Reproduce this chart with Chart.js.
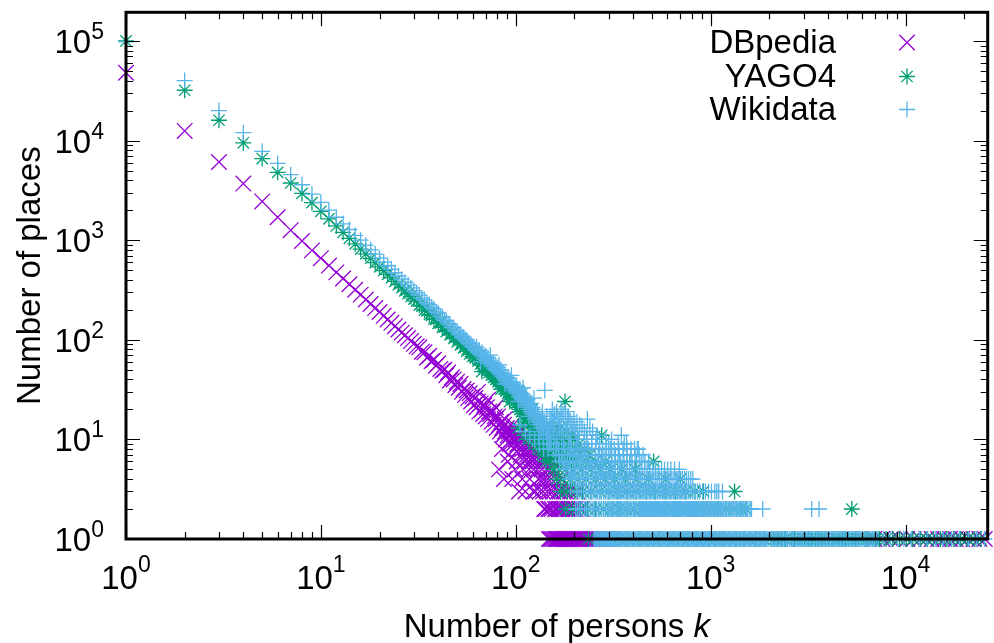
<!DOCTYPE html>
<html>
<head>
<meta charset="utf-8">
<script src="https://cdn.jsdelivr.net/npm/chart.js@4.4.1/dist/chart.umd.min.js"></script>
<style>
  html, body { margin: 0; padding: 0; background: #fff; overflow: hidden; }
  canvas { display: block; }
</style>
</head>
<body>
<canvas id="chart" width="1000" height="643"></canvas>
<script>
// Number of places having exactly k persons, for k = 1..60
const dbpediaHead = [48000,12500,6100,3700,2450,1700,1260,980,790,660,
  556,475,412,361,318,284,254,229,208,190,
  174,160,148,137,127,118,111,104,97,91,
  86,84,76,75,66,69,61,63,55,58,
  51,49,50,44,47,39,42,40,35,38,
  33,36,30,32,28,31,26,29,24,27];
const yagoHead = [100000,32000,16000,9500,6600,4800,3750,2950,2380,1950,
  1640,1390,1200,1045,920,815,730,655,595,540,
  494,454,418,386,358,333,310,290,272,256,
  244,223,218,199,195,179,176,161,160,146,
  147,133,135,121,124,112,115,103,106,95,
  99,89,92,83,86,77,81,72,76,68];
const wikidataHead = [98000,40000,20000,12000,7800,5900,4550,3600,2900,2400,
  2000,1700,1460,1280,1120,1000,890,800,725,660,
  603,554,510,471,437,406,378,354,332,312,
  296,281,262,252,234,226,211,204,190,186,
  172,170,157,155,145,143,133,132,123,122,
  115,113,107,106,100,99,93,92,87,86];

// [k, places] pairs beyond k = 60
const dbpediaMid = [[61,22],[62,26],[63,21],[64,24],[65,19],[66,23],[67,20],[68,18],[69,22],[70,17],
  [71,21],[72,16],[73,19],[74,18],[75,15],[76,19],[77,14],[78,17],[79,16],[80,13],
  [81,17],[82,14],[83,12],[84,15],[85,13],[86,11],[87,14],[88,12],[89,10],[90,13],
  [91,11],[92,12],[93,9],[94,11],[95,10],[96,12],[97,9],[98,8],[99,11],[100,10],
  [102,9],[103,11],[104,8],[106,7],[107,10],[108,8],[110,9],[111,6],[113,8],[114,7],
  [116,9],[117,6],[119,7],[120,8],[122,6],[124,5],[125,7],[127,6],[129,5],[130,7],
  [132,4],[134,6],[136,5],[137,4],[139,6],[141,4],[143,5],[145,3],[146,4],[148,5],
  [150,3],[152,4],[155,3],[157,5],[159,2],[161,4],[164,3],[166,2],[168,3],[171,4],
  [173,2],[176,3],[178,2],[181,3],[184,2],[187,2],[190,3],[194,2],[198,2],[203,2],
  [207,3],[212,2],[218,2],
  [85,8],[92,7],[101,6],[109,5],[118,4],[126,3],[133,3],[140,2],[147,2],[153,2],
  [162,2],[170,2],[88,16],[97,14],[105,12],[115,11],[128,9],[135,8],[144,7],[156,6],
  [64,30],[72,25],[79,21],[82,5],[87,4],[91,6],[96,4],[99,5],[104,3],[108,4],
  [112,3],[117,5],[123,3],[131,4],[138,3],[142,2],[149,2]];
const yagoMid = [[61,72],[62,66],[63,69],[64,61],[65,64],[66,57],[67,60],[68,55],[69,52],[70,56],
  [71,49],[72,52],[73,47],[74,50],[75,44],[76,47],[77,42],[78,45],[79,40],[80,43],
  [81,38],[82,41],[83,36],[84,39],[85,34],[86,37],[87,32],[88,35],[89,31],[90,34],
  [91,29],[92,32],[93,28],[94,30],[95,26],[96,29],[97,25],[98,28],[99,24],[100,27],
  [101,23],[102,26],[103,21],[104,24],[105,20],[106,23],[107,19],[108,22],[109,18],[110,21],
  [111,17],[112,20],[113,16],[114,19],[115,15],[116,18],[117,14],[118,17],[119,15],[120,13],
  [121,16],[122,12],[123,15],[124,13],[125,11],[126,14],[127,12],[128,10],[129,13],[130,11],
  [132,12],[133,9],[135,11],[136,10],[138,8],[139,12],[141,9],[142,10],[144,8],[145,11],
  [147,7],[148,9],[150,10],
  [67,48],[75,52],[84,32],[93,24],[104,30],[112,15],[121,20],[131,15],[140,13],[146,12],
  [103,13],[110,11],[116,10],[123,9],[130,8],[137,7],[143,6],[149,6],
  [179,24],[276,11],[510,6]];
const wikidataMid = [[61,84],[62,80],[63,84],[64,77],[65,79],[66,71],[67,75],[68,68],[69,64],[70,69],
  [71,62],[72,66],[73,58],[74,61],[75,57],[76,54],[77,58],[78,51],[79,55],[80,49],
  [81,53],[82,47],[83,45],[84,50],[85,43],[86,46],[87,41],[88,44],[89,39],[90,42],
  [91,37],[92,41],[93,35],[94,38],[95,36],[96,33],[97,37],[98,31],[99,34],[100,30],
  [101,35],[102,29],[103,31],[104,27],[105,32],[106,26],[107,29],[108,25],[109,28],[110,24],
  [111,27],[112,22],[113,26],[114,21],[115,25],[116,20],[117,23],[118,22],[119,19],[120,23],
  [121,18],[122,21],[123,17],[124,20],[125,16],[126,19],[127,17],[128,15],[129,18],[130,14],
  [131,17],[132,15],[133,13],[134,16],[135,12],[136,15],[137,14],[138,11],[139,13],[140,15],
  [141,31],[142,12],[143,14],[144,10],[145,13],[146,11],[147,12],[148,9],[149,13],[150,10],
  [66,60],[74,70],[82,56],[88,36],[95,44],[103,24],[109,33],[117,17],[124,26],[131,11],
  [137,19],[144,17],[105,14],[112,12],[118,11],[125,10],[132,9],[139,8],[146,8],
  [233,16],[348,11],[360,9],[420,8]];

// Sparse tail: [places, [k values having that many places]]
const dbpediaRows = [
  [1, [148,151,154,158,160,163,165,167,169,172,175,177,180,183,185,189,192,196,200,205,
       209,214,219,225,231,238,244,251,259,268,280,293,310,
       6900,7600,8400,9300,10200,11000,11900,12800,13600,14700,15800,16900,18100,19500,
       20800,22300,23900,25500]]
];
const yagoRows = [
  [13, [155,168]],
  [12, [152,163,182]],
  [11, [158,171,195]],
  [10, [154,166,178,200]],
  [9, [151,160,174,188,211]],
  [8, [157,169,183,203,226]],
  [7, [153,164,177,193,214,240]],
  [6, [160,172,186,204,228,255,290]],
  [5, [156,167,181,197,218,243,272,305,350,410]],
  [4, [162,175,190,208,230,256,287,322,365,418,480,588,700]],
  [3, [170,184,201,220,243,270,300,335,372,415,465,520,585,660,745,830,918,1327]],
  [2, [180,196,214,234,257,282,309,338,370,405,444,486,532,582,637,697,762,834,912,1000,
       1095,1200,1310,1430,1520,5300]],
  [1, [236,261,283,312,336,372,401,433,470,512,547,602,648,715,768,842,905,982,1063,1150,
       1248,1352,1470,1590,1720,1880,2040,2120,2210,2310,2400,2600,2700,2810,2950,3050,3180,
       3300,3440,3580,3720,3880,4040,4200,4380,4550,4740,4930,5130,5340,5560,5780,6020,6260,
       6510,6780,7060,7340,7950,8610,9330,10100,10900,11900,12800,13900,15100,16300,17700,
       19200,20800,22500,24400]]
];
const wikidataRows = [
  [20, [154,171]],
  [19, [162,180]],
  [18, [158,175]],
  [17, [150,164,186]],
  [16, [153,168,185,199]],
  [15, [156,171,190,206]],
  [14, [160,176,194,213]],
  [13, [151,166,181,199,219,240]],
  [12, [155,168,183,202,225,248]],
  [11, [158,172,188,207,231,262]],
  [10, [150,162,176,192,210,232,258,290,310]],
  [9, [152,163,176,190,206,224,245,270,300,335,370]],
  [8, [156,166,178,193,209,226,246,268,292,320,355,390,425,161,172,186,201,217,236,257,280,306,337,372,407]],
  [7, [160,172,184,197,212,228,245,265,287,311,340,372,410,450,166,178,190,204,220,236,255,276,299,325,356,390,430]],
  [6, [168,178,190,203,216,231,246,262,280,300,322,346,372,395,440,480,
       173,184,196,209,223,238,254,271,290,311,334,359,384,417,460]],
  [5, [176,186,196,207,218,229,242,255,268,283,299,315,333,352,372,394,418,444,472,505,
       540,580,625,653,690,181,191,201,212,223,235,248,261,275,291,307,324,342,362,383,
       406,431,458,488,522,560,602]],
  [4, [188,198,208,219,230,243,255,266,279,291,304,318,333,347,363,380,398,416,436,456,
       478,500,524,548,575,604,633,664,670,697,735,770,810,
       193,203,213,224,236,249,260,272,285,297,311,325,340,355,371,389,407,426,446,467,
       489,512,536,561,589,618,648,680,716,752,790]],
  [3, [211,223,236,246,258,269,282,294,305,318,328,339,350,363,376,389,402,417,432,445,
       461,476,492,509,524,544,565,582,603,621,644,665,688,707,733,755,790,830,880,940,
       1010,1050,1075,1100,1150,
       205,217,229,241,252,263,275,288,299,311,323,333,344,356,369,382,395,409,424,438,
       453,468,484,500,516,534,554,573,592,612,632,654,676,697,720,744,772,810,855,910,975]],
  [2, [203,213,226,237,249,259,270,283,295,304,313,323,333,344,355,363,375,388,403,411,
       427,436,445,454,463,472,481,491,501,511,522,533,545,556,568,580,593,605,618,632,
       646,661,676,692,707,722,738,755,771,789,806,825,845,864,884,905,927,949,971,995,
       1018,1042,1063,1088,1115,1140,1170,1210,1250,1290,1335,1380,1425,1475,1525,1550,
       1590,1620,1850,3300,3600,
       208,219,231,243,254,265,276,289,300,309,318,328,338,349,359,369,381,395,407,419,
       431,440,449,458,467,476,486,496,506,516,527,539,550,562,574,586,599,611,625,639,
       653,668,684,699,714,730,746,763,780,797,815,835,854,874,894,916,938,960,983,1006,
       1030,1052,1075,1101,1127,1155,1190,1230,1270,1312,1357,1402,1450,1500]],
  [1, [252,258,263,270,276,281,289,296,302,309,317,324,331,340,347,355,364,372,381,390,
       399,409,418,428,439,449,460,471,482,494,505,517,530,542,555,568,582,596,610,625,
       640,655,671,687,703,720,737,755,773,791,810,829,849,869,890,911,933,955,978,1001,
       1031,1062,1093,1126,1160,1195,1231,1267,1305,1345,1385,1426,1469,1513,1558,1605,
       1653,1703,1754,1807,1861,1917,1974,2030,2110,2170,2260,2330,2420,2480,2590,2660,
       2780,2870,2950,3080,3190,3270,3420,3540,3650,3810,3930,4080,4240,4370,4550,4720,
       4880,5070,5260,5480,5690,5900,6150,6390,6650,6920,7230,7700,8350,9100,9800,10700,
       11800,12900,14300,15600,17200,18900,21000,23200,25400,
       255,261,267,273,279,285,292,299,306,313,320,328,336,344,351,360,368,377,386,395,
       404,414,423,434,444,455,466,477,488,500,511,524,536,549,562,575,589,603,618,632,
       648,663,679,695,712,729,746,764,782,801,820,839,859,880,901,922,944,967,990,1016,
       1047,1078,1110,1143,1178,1213,1249,1286,1325,1365,1406,1448,1491,1536,1582,1629,
       1678,1728,1780,1834,1889,1946,2070,2140,2215,2295,2375,2450,2535,2625,2720,2825,
       2910,3010,3135,3230,3345,3480,3595,3730,3870,4005,4160,4305,4460,4635,4800,4975,
       5165,5370,5585,5795,6025,6270,6520,6785,7075]]
];

// Axis ticks (decades) and their exponent labels
const xMajorTicks = [1, 10, 100, 1000, 10000];
const xTickExponents = ['0', '1', '2', '3', '4'];
const yMajorTicks = [1, 10, 100, 1000, 10000, 100000];
const yTickExponents = ['0', '1', '2', '3', '4', '5'];
const minorSteps = [2, 3, 4, 5, 6, 7, 8, 9];

const seriesNames = ['DBpedia', 'YAGO4', 'Wikidata'];
const seriesColors = ['#9400d3', '#009e73', '#56b4e9'];
const seriesMarkers = ['crossRot', 'star', 'cross'];
const seriesRadius = [11, 8, 8];

function toPoints(head, mid, rows) {
  const pts = head.map((n, i) => ({ x: i + 1, y: n }));
  mid.forEach(([k, n]) => pts.push({ x: k, y: n }));
  rows.forEach(([n, ks]) => ks.forEach(k => pts.push({ x: k, y: n })));
  return pts;
}

const pointSets = [
  toPoints(dbpediaHead, dbpediaMid, dbpediaRows),
  toPoints(yagoHead, yagoMid, yagoRows),
  toPoints(wikidataHead, wikidataMid, wikidataRows)
];
// drawing order: DBpedia at the bottom, Wikidata on top
const drawOrder = [3, 2, 1];

const FONT = '"Liberation Sans", Arial, Helvetica, sans-serif';
const BASE_PX = 33;
const SUP_PX = 23;
const MARK_LW = 1.3;

function drawMarker(ctx, style, radius, x, y, color) {
  ctx.save();
  ctx.strokeStyle = color;
  ctx.lineWidth = MARK_LW;
  if (Chart.helpers && Chart.helpers.drawPoint) {
    Chart.helpers.drawPoint(ctx, { pointStyle: style, radius: radius, borderWidth: MARK_LW, rotation: 0 }, x, y);
  }
  ctx.restore();
}

const framePlugin = {
  id: 'frame',
  afterDatasetsDraw(chart) {
    const { ctx, chartArea: a, scales: { x, y } } = chart;
    ctx.save();
    ctx.strokeStyle = '#000';
    ctx.lineWidth = 1.2;
    const tickX = (v, len) => {
      const px = Math.round(x.getPixelForValue(v)) + 0.5;
      ctx.beginPath();
      ctx.moveTo(px, a.bottom); ctx.lineTo(px, a.bottom - len);
      ctx.moveTo(px, a.top); ctx.lineTo(px, a.top + len);
      ctx.stroke();
    };
    const tickY = (v, len) => {
      const py = Math.round(y.getPixelForValue(v)) + 0.5;
      ctx.beginPath();
      ctx.moveTo(a.left, py); ctx.lineTo(a.left + len, py);
      ctx.moveTo(a.right, py); ctx.lineTo(a.right - len, py);
      ctx.stroke();
    };
    xMajorTicks.forEach(v => {
      tickX(v, 14);
      minorSteps.forEach(m => { if (v * m < x.max) tickX(v * m, 7); });
    });
    yMajorTicks.forEach(v => {
      tickY(v, 14);
      minorSteps.forEach(m => { if (v * m < y.max) tickY(v * m, 7); });
    });
    ctx.lineWidth = 3;
    ctx.strokeRect(a.left, a.top, a.right - a.left, a.bottom - a.top);
    ctx.restore();
  },
  afterDraw(chart) {
    const { ctx, chartArea: a, scales: { x, y } } = chart;
    ctx.save();
    ctx.fillStyle = '#000';
    ctx.textBaseline = 'alphabetic';
    const base = BASE_PX + 'px ' + FONT;
    const sup = SUP_PX + 'px ' + FONT;

    // x tick labels: 10^n centred under each decade
    xMajorTicks.forEach((v, i) => {
      const px = x.getPixelForValue(v);
      ctx.font = base; const w1 = ctx.measureText('10').width;
      ctx.font = sup; const w2 = ctx.measureText(xTickExponents[i]).width;
      const left = px - (w1 + w2) / 2;
      ctx.textAlign = 'left';
      ctx.font = base; ctx.fillText('10', left, 589);
      ctx.font = sup; ctx.fillText(xTickExponents[i], left + w1, 572);
    });

    // y tick labels: right aligned against the axis
    yMajorTicks.forEach((v, i) => {
      const py = y.getPixelForValue(v);
      ctx.font = sup; const w2 = ctx.measureText(yTickExponents[i]).width;
      ctx.textAlign = 'right';
      ctx.fillText(yTickExponents[i], 104, py - 2);
      ctx.font = base; ctx.fillText('10', 104 - w2, py + 12);
    });

    // x axis title with italic k
    ctx.font = base;
    const t1 = 'Number of persons ';
    const w1 = ctx.measureText(t1).width;
    ctx.font = 'italic ' + base;
    const w2 = ctx.measureText('k').width;
    const cx = (a.left + a.right) / 2;
    ctx.textAlign = 'left';
    ctx.font = base; ctx.fillText(t1, cx - (w1 + w2) / 2, 637);
    ctx.font = 'italic ' + base; ctx.fillText('k', cx - (w1 + w2) / 2 + w1, 637);

    // y axis title
    ctx.save();
    ctx.translate(40, (a.top + a.bottom) / 2);
    ctx.rotate(-Math.PI / 2);
    ctx.textAlign = 'center';
    ctx.font = base;
    ctx.fillText('Number of places', 0, 0);
    ctx.restore();

    // key, top right
    const rowsY = [53, 87, 120];
    seriesNames.forEach((name, i) => {
      ctx.font = base;
      ctx.textAlign = 'right';
      ctx.fillStyle = '#000';
      ctx.fillText(name, 836, rowsY[i]);
      drawMarker(ctx, seriesMarkers[i], seriesRadius[i], 907, rowsY[i] - 10.5, seriesColors[i]);
    });
    ctx.restore();
  }
};

new Chart(document.getElementById('chart'), {
  type: 'scatter',
  data: {
    datasets: seriesNames.map((name, i) => ({
      label: name,
      data: pointSets[i],
      pointStyle: seriesMarkers[i],
      pointRadius: seriesRadius[i],
      pointBorderWidth: MARK_LW,
      pointBorderColor: seriesColors[i],
      pointBackgroundColor: 'rgba(0,0,0,0)',
      showLine: false,
      clip: false,
      order: drawOrder[i]
    }))
  },
  options: {
    responsive: false,
    animation: false,
    devicePixelRatio: 1,
    events: [],
    layout: { padding: { left: 126, right: 3, top: 12, bottom: 104 } },
    scales: {
      x: { type: 'logarithmic', min: 1, max: 26400, display: false },
      y: { type: 'logarithmic', min: 1, max: 194000, display: false }
    },
    plugins: { legend: { display: false }, tooltip: { enabled: false } }
  },
  plugins: [framePlugin]
});
</script>
</body>
</html>
